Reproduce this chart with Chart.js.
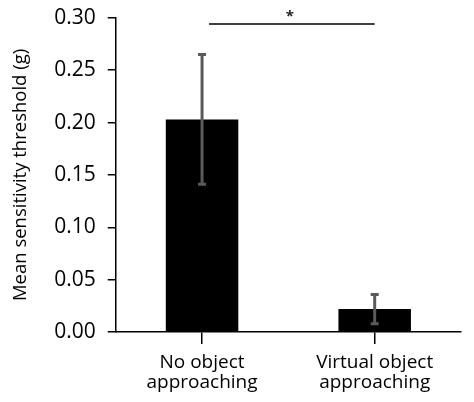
<!DOCTYPE html>
<html>
<head>
<meta charset="utf-8">
<script src="https://cdn.jsdelivr.net/npm/chart.js@4"></script>
<style>
html,body{margin:0;padding:0;background:#fff;}
#wrap{width:474px;height:402px;position:relative;}
</style>
</head>
<body>
<div id="wrap"><canvas id="c"></canvas></div>
<script>
const categories = [["No object", "approaching"], ["Virtual object", "approaching"]];
const means = [0.203, 0.022];
const errors = [0.062, 0.014];
const yTicks = [0, 0.05, 0.10, 0.15, 0.20, 0.25, 0.30];
const yTitle = "Mean sensitivity threshold (g)";
const sigPair = [0, 1];
const sigLevel = 0.294;
const sigLabel = "*";

const FONT = "'Open Sans', sans-serif";

const errorBarPlugin = {
  id: 'errbars',
  afterDatasetsDraw(chart) {
    const ctx = chart.ctx;
    const xs = chart.scales.x, ys = chart.scales.y;
    ctx.save();
    ctx.strokeStyle = '#5a5a5a';
    ctx.lineWidth = 3;
    means.forEach((m, i) => {
      const x = xs.getPixelForValue(i);
      const yHi = ys.getPixelForValue(m + errors[i]);
      const yLo = ys.getPixelForValue(m - errors[i]);
      ctx.beginPath();
      ctx.moveTo(x, yHi); ctx.lineTo(x, yLo);
      ctx.moveTo(x - 4, yHi); ctx.lineTo(x + 4, yHi);
      ctx.moveTo(x - 4, yLo); ctx.lineTo(x + 4, yLo);
      ctx.stroke();
    });
    // significance bracket
    const x0 = xs.getPixelForValue(sigPair[0]) + 7;
    const x1 = xs.getPixelForValue(sigPair[1]);
    const y = ys.getPixelForValue(sigLevel);
    ctx.strokeStyle = '#000';
    ctx.lineWidth = 1.5;
    ctx.beginPath();
    ctx.moveTo(x0, y); ctx.lineTo(x1, y);
    ctx.stroke();
    ctx.fillStyle = '#222';
    ctx.font = "bold 15px " + FONT;
    ctx.textAlign = 'center';
    ctx.textBaseline = 'middle';
    ctx.fillText(sigLabel, (x0 + x1) / 2 - 2, y - 7);
    ctx.restore();
  }
};

new Chart(document.getElementById('c'), {
  type: 'bar',
  data: {
    labels: categories,
    datasets: [{
      data: means,
      backgroundColor: '#000',
      borderWidth: 0,
      barPercentage: 0.42,
      categoryPercentage: 1.0
    }]
  },
  options: {
    responsive: true,
    maintainAspectRatio: false,
    animation: false,
    devicePixelRatio: 1,
    layout: { padding: { top: 0, right: 13, left: 10, bottom: 0 } },
    plugins: { legend: { display: false }, tooltip: { enabled: false } },
    scales: {
      x: {
        grid: { display: true, offset: false, drawOnChartArea: false, tickLength: 12, color: '#000', lineWidth: 1.5 },
        border: { display: true, color: '#000', width: 1.5 },
        ticks: { color: '#000', font: { family: FONT, size: 19, lineHeight: 1.05 }, padding: 9, maxRotation: 0 }
      },
      y: {
        min: 0, max: 0.3,
        afterBuildTicks(scale) { scale.ticks = yTicks.map(v => ({ value: v })); },
        grid: { display: true, drawOnChartArea: false, tickLength: 8, color: '#000', lineWidth: 1.5 },
        border: { display: true, color: '#000', width: 1.5 },
        ticks: { color: '#000', font: { family: FONT, size: 21, lineHeight: 0.55 }, padding: 12, callback: v => Number(v).toFixed(2) },
        title: { display: true, text: yTitle, color: '#000', font: { family: FONT, size: 18.5 }, padding: { top: 0, bottom: 10 } }
      }
    }
  },
  plugins: [errorBarPlugin]
});
</script>
</body>
</html>
